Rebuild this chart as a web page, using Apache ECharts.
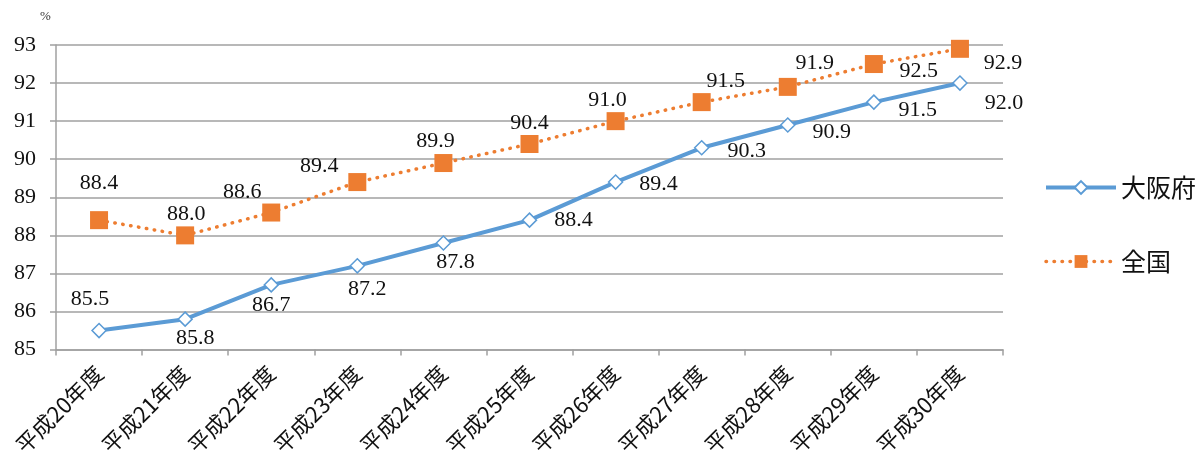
<!DOCTYPE html>
<html><head><meta charset="utf-8">
<script src="https://cdn.jsdelivr.net/npm/echarts@6/dist/echarts.min.js"></script>
<style>html,body{margin:0;padding:0;background:#fff}#c{width:1195px;height:459px}</style>
</head><body><div id="c"></div>
<script>
const categories = ['平成20年度','平成21年度','平成22年度','平成23年度','平成24年度','平成25年度','平成26年度','平成27年度','平成28年度','平成29年度','平成30年度'];
const osaka = [85.5, 85.8, 86.7, 87.2, 87.8, 88.4, 89.4, 90.3, 90.9, 91.5, 92.0];
const national = [88.4, 88.0, 88.6, 89.4, 89.9, 90.4, 91.0, 91.5, 91.9, 92.5, 92.9];
const yTicks = [85, 86, 87, 88, 89, 90, 91, 92, 93];

// label offsets (style only)
const osakaOff = [[-9,-31],[10,19],[0,20],[10,23],[12,19],[44,0],[43,2],[45,3],[44,7],[44,8],[44,20]];
const natOff = [[0,-37],[1,-21],[-29,-20],[-38,-16],[-8,-22],[0,-21],[-8,-21],[24,-21],[27,-24],[45,7],[43,14]];

const numFont = "'Liberation Serif', 'DejaVu Serif', serif";
const cjkFont = "'Noto Sans CJK JP', sans-serif";

function withLabels(vals, offs) {
  return vals.map((v, i) => ({
    value: v,
    label: { show: true, position: 'inside', align: 'center', verticalAlign: 'middle',
      offset: offs[i], formatter: p => p.value.toFixed(1),
      color: '#111', fontSize: 22, fontFamily: numFont }
  }));
}

const chart = echarts.init(document.getElementById('c'));
chart.setOption({
  animation: false,
  backgroundColor: '#fff',
  grid: { left: 56, right: 192, top: 45, bottom: 109 },
  graphic: [{ type: 'text', left: 40, top: 10, style: { text: '%', fontSize: 13, fill: '#333', fontFamily: numFont } }],
  legend: {
    orient: 'vertical', left: 1039, top: 170, itemWidth: 70, itemHeight: 16, itemGap: 49,
    textStyle: { fontSize: 25, color: '#111', fontFamily: cjkFont },
    data: [
      { name: '大阪府', lineStyle: { width: 4 } },
      { name: '全国', lineStyle: { width: 3.5 } }
    ]
  },
  xAxis: {
    type: 'category', data: categories, boundaryGap: true,
    axisLine: { lineStyle: { color: '#a0a0a0', width: 1.5 } },
    axisTick: { show: true, length: 6, lineStyle: { color: '#a0a0a0', width: 1.5 } },
    axisLabel: { rotate: 45, margin: 20, fontSize: 22, color: '#111', fontFamily: cjkFont, interval: 0 }
  },
  yAxis: {
    type: 'value', min: yTicks[0], max: yTicks[yTicks.length-1], interval: 1,
    axisLine: { show: true, lineStyle: { color: '#a0a0a0', width: 1.5 } },
    axisTick: { show: true, length: 6, lineStyle: { color: '#a0a0a0', width: 1.5 } },
    splitLine: { lineStyle: { color: '#a0a0a0', width: 1.5 } },
    axisLabel: { margin: 20, fontSize: 22, color: '#111', fontFamily: numFont }
  },
  series: [
    { name: '大阪府', type: 'line', data: withLabels(osaka, osakaOff),
      symbol: 'diamond', symbolSize: 14, showAllSymbol: true,
      lineStyle: { color: '#5B9BD5', width: 4 },
      itemStyle: { color: '#fff', borderColor: '#5B9BD5', borderWidth: 1.5 },
      z: 3 },
    { name: '全国', type: 'line', data: withLabels(national, natOff),
      symbol: 'rect', symbolSize: 18, showAllSymbol: true,
      lineStyle: { color: '#ED7D31', width: 3.5, type: [0.5, 7.5], cap: 'round' },
      itemStyle: { color: '#ED7D31' },
      z: 2 }
  ]
});
</script></body></html>
